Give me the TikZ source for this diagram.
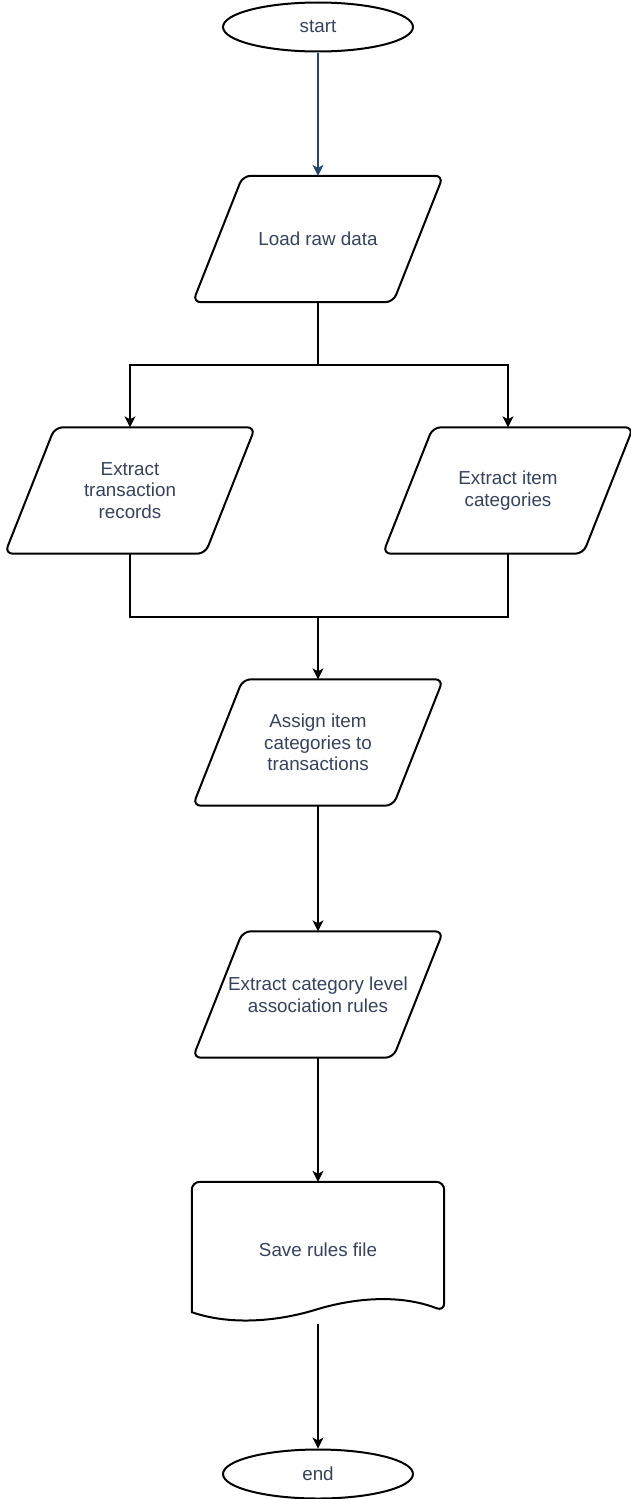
\documentclass[tikz,border=0pt]{standalone}
\usepackage{fontspec}
\setmainfont{Liberation Sans}
\usetikzlibrary{shapes.geometric,arrows.meta}
\definecolor{txt}{HTML}{34425C}
\definecolor{startarrow}{HTML}{23476F}
\tikzset{
  term/.style={ellipse, draw=black, line width=2pt, minimum width=190pt, minimum height=49pt, inner sep=0pt, text=txt, font=\fontsize{18.8}{21.6}\selectfont},
  box/.style={rectangle, draw=none, inner sep=0pt, align=center, text=txt, font=\fontsize{18.8}{21.6}\selectfont},
  paranode/.style={box, minimum width=250pt, minimum height=126pt},
  frame/.style={draw=black, line width=2pt, rounded corners=8pt},
  conn/.style={draw=black, line width=1.2pt},
  arr/.style={conn, -{Stealth[length=11pt,width=11pt,inset=3pt]}},
}
\newcommand\paraframe[1]{\draw[frame] (#1.north) -- (#1.north east) -- ([xshift=-50pt]#1.south east) -- (#1.south west) -- ([xshift=50pt]#1.north west) -- cycle;}
\begin{document}
\begin{tikzpicture}[x=1pt,y=-1pt]
\useasboundingbox (0,0) rectangle (630,1499);
\node[term] (start) at (318,27) {start};
\node[paranode] (load) at (318,239) {Load raw data};
\node[paranode] (ltr) at (130,490.5) {Extract\\transaction\\records};
\node[paranode] (cat) at (508,490.5) {Extract item\\categories};
\node[paranode] (assign) at (318,742.5) {Assign item\\categories to\\transactions};
\node[paranode] (rules) at (318,994.5) {Extract category level\\association rules};
\node[box, minimum width=252pt, minimum height=136pt] (save) at (318,1250) {Save rules file};
\node[term] (end) at (318,1474) {end};
\paraframe{load}
\paraframe{ltr}
\paraframe{cat}
\paraframe{assign}
\paraframe{rules}
% document shape
\draw[frame] ([yshift=6pt]save.south west) -- (save.north west) -- (save.north east) -- ([yshift=7pt]save.south east)
  [sharp corners] .. controls (400,1294) and (355,1298) .. (318,1309)
  .. controls (280,1321) and (232,1326) .. ([yshift=6pt]save.south west) -- cycle;
\coordinate (split) at (318,365);
\coordinate (merge) at (318,617);
\draw[arr, draw=startarrow] (start) -- (load);
\draw[conn] (load.south) -- (split);
\draw[arr] (split) -| (ltr.north);
\draw[arr] (split) -| (cat.north);
\draw[conn] (ltr.south) |- (merge);
\draw[conn] (cat.south) |- (merge);
\draw[arr] (merge) -- (assign.north);
\draw[arr] (assign.south) -- (rules.north);
\draw[arr] (rules.south) -- (save.north);
\draw[arr] ([yshift=-6pt]save.south) -- (end.north);
\end{tikzpicture}
\end{document}
